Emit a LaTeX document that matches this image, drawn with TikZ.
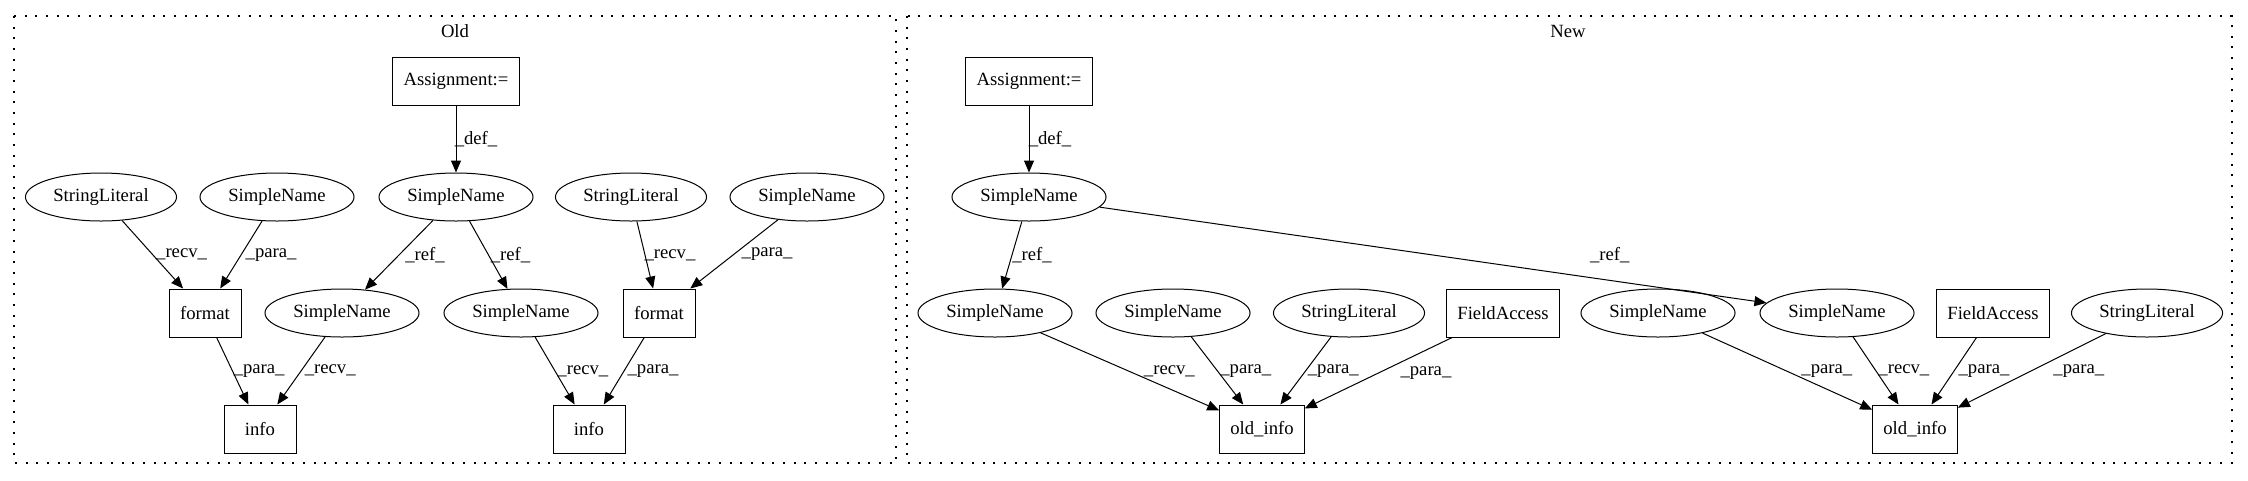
\documentclass[tikz,border=0pt]{standalone}
\usepackage{fontspec}
\setmainfont{Liberation Serif}
\usetikzlibrary{arrows.meta, shapes.geometric, positioning}

\begin{document}
\begin{tikzpicture}[
        x=0.75pt, y=-0.75pt, % one unit is one pixel of the drawing
        font=\fontsize{14}{16}\selectfont,
        line width=0.75pt,
        ast/.style={
            shape=ellipse,
            draw,
            inner xsep=4.3pt,
            inner ysep=2pt,
            minimum height=36pt
        },
        stmt/.style={
            shape=rectangle,
            draw,
            inner xsep=8pt,
            minimum width=54pt,
            minimum height=36pt
        },
        lbl/.style={inner sep=0pt},
        cluster/.style={draw, line width=1.1pt, dash pattern=on 1.5pt off 6.5pt}, % dotted frame
        every edge/.style={
            draw,
            -{Triangle[length=9pt, width=7.5pt]}
        }
    ]
    \useasboundingbox (0,0) rectangle (2248,480);

    % old version
    \draw[cluster] (14,16) rectangle (896,463);
    \node (old) at (455,31) {Old};
    \node[stmt] (oasg) at (456,81) {Assignment:=};
    \node[ast] (odef) at (456,197) {SimpleName};
    \node[ast] (osl1) at (101,197) {StringLiteral};
    \node[ast] (osn1) at (277,197) {SimpleName};
    \node[ast] (osl2) at (631,197) {StringLiteral};
    \node[ast] (osn2) at (807,197) {SimpleName};
    \node[stmt] (ofmt1) at (205,313) {format};
    \node[ast] (osn3) at (342,313) {SimpleName};
    \node[ast] (osn4) at (521,313) {SimpleName};
    \node[stmt] (ofmt2) at (659,313) {format};
    \node[stmt] (oinfo1) at (260,429) {info};
    \node[stmt] (oinfo2) at (589,429) {info};
    \path[->]
        (oasg) edge node[lbl, xshift=15pt] {\_def\_} (odef)
        (osl1) edge node[lbl, xshift=21.75pt] {\_recv\_} (ofmt1)
        (osn1) edge node[lbl, xshift=22.5pt] {\_para\_} (ofmt1)
        (odef) edge node[lbl, xshift=19.5pt] {\_ref\_} (osn3)
        (odef) edge node[lbl, xshift=16.5pt] {\_ref\_} (osn4)
        (osl2) edge node[lbl, xshift=18.75pt] {\_recv\_} (ofmt2)
        (osn2) edge node[lbl, xshift=24.75pt] {\_para\_} (ofmt2)
        (ofmt1) edge node[lbl, xshift=20pt] {\_para\_} (oinfo1)
        (osn3) edge node[lbl, xshift=21.75pt] {\_recv\_} (oinfo1)
        (osn4) edge node[lbl, xshift=21pt] {\_recv\_} (oinfo2)
        (ofmt2) edge node[lbl, xshift=21.75pt] {\_para\_} (oinfo2);

    % new version
    \draw[cluster] (907,16) rectangle (2232,463);
    \node (new) at (1568,31) {New};
    \node[stmt] (nasg) at (1029,81) {Assignment:=};
    \node[ast] (ndef) at (1029,197) {SimpleName};
    \node[ast] (nsn1) at (995,313) {SimpleName};
    \node[ast] (nsn2) at (1173,313) {SimpleName};
    \node[ast] (nsl1) at (1349,313) {StringLiteral};
    \node[stmt] (nfa1) at (1503,313) {FieldAccess};
    \node[ast] (nsn3) at (1658,313) {SimpleName};
    \node[ast] (nsn4) at (1837,313) {SimpleName};
    \node[stmt] (nfa2) at (1993,313) {FieldAccess};
    \node[ast] (nsl2) at (2147,313) {StringLiteral};
    \node[stmt] (ninfo1) at (1262,429) {old\_info};
    \node[stmt] (ninfo2) at (1915,429) {old\_info};
    \path[->]
        (nasg) edge node[lbl, xshift=15.75pt] {\_def\_} (ndef)
        (ndef) edge node[lbl, xshift=15pt] {\_ref\_} (nsn1)
        (ndef) edge node[lbl, pos=0.765, yshift=19pt] {\_ref\_} (nsn4)
        (nsn1) edge node[lbl, xshift=29.6pt] {\_recv\_} (ninfo1)
        (nsn2) edge node[lbl, xshift=21.4pt] {\_para\_} (ninfo1)
        (nsl1) edge node[lbl, xshift=20.6pt] {\_para\_} (ninfo1)
        (nfa1) edge node[lbl, xshift=35.6pt] {\_para\_} (ninfo1)
        (nsn3) edge node[lbl, xshift=29.6pt] {\_para\_} (ninfo2)
        (nsn4) edge node[lbl, xshift=21pt] {\_recv\_} (ninfo2)
        (nfa2) edge node[lbl, xshift=22.5pt] {\_para\_} (ninfo2)
        (nsl2) edge node[lbl, xshift=35.25pt] {\_para\_} (ninfo2);
\end{tikzpicture}
\end{document}
